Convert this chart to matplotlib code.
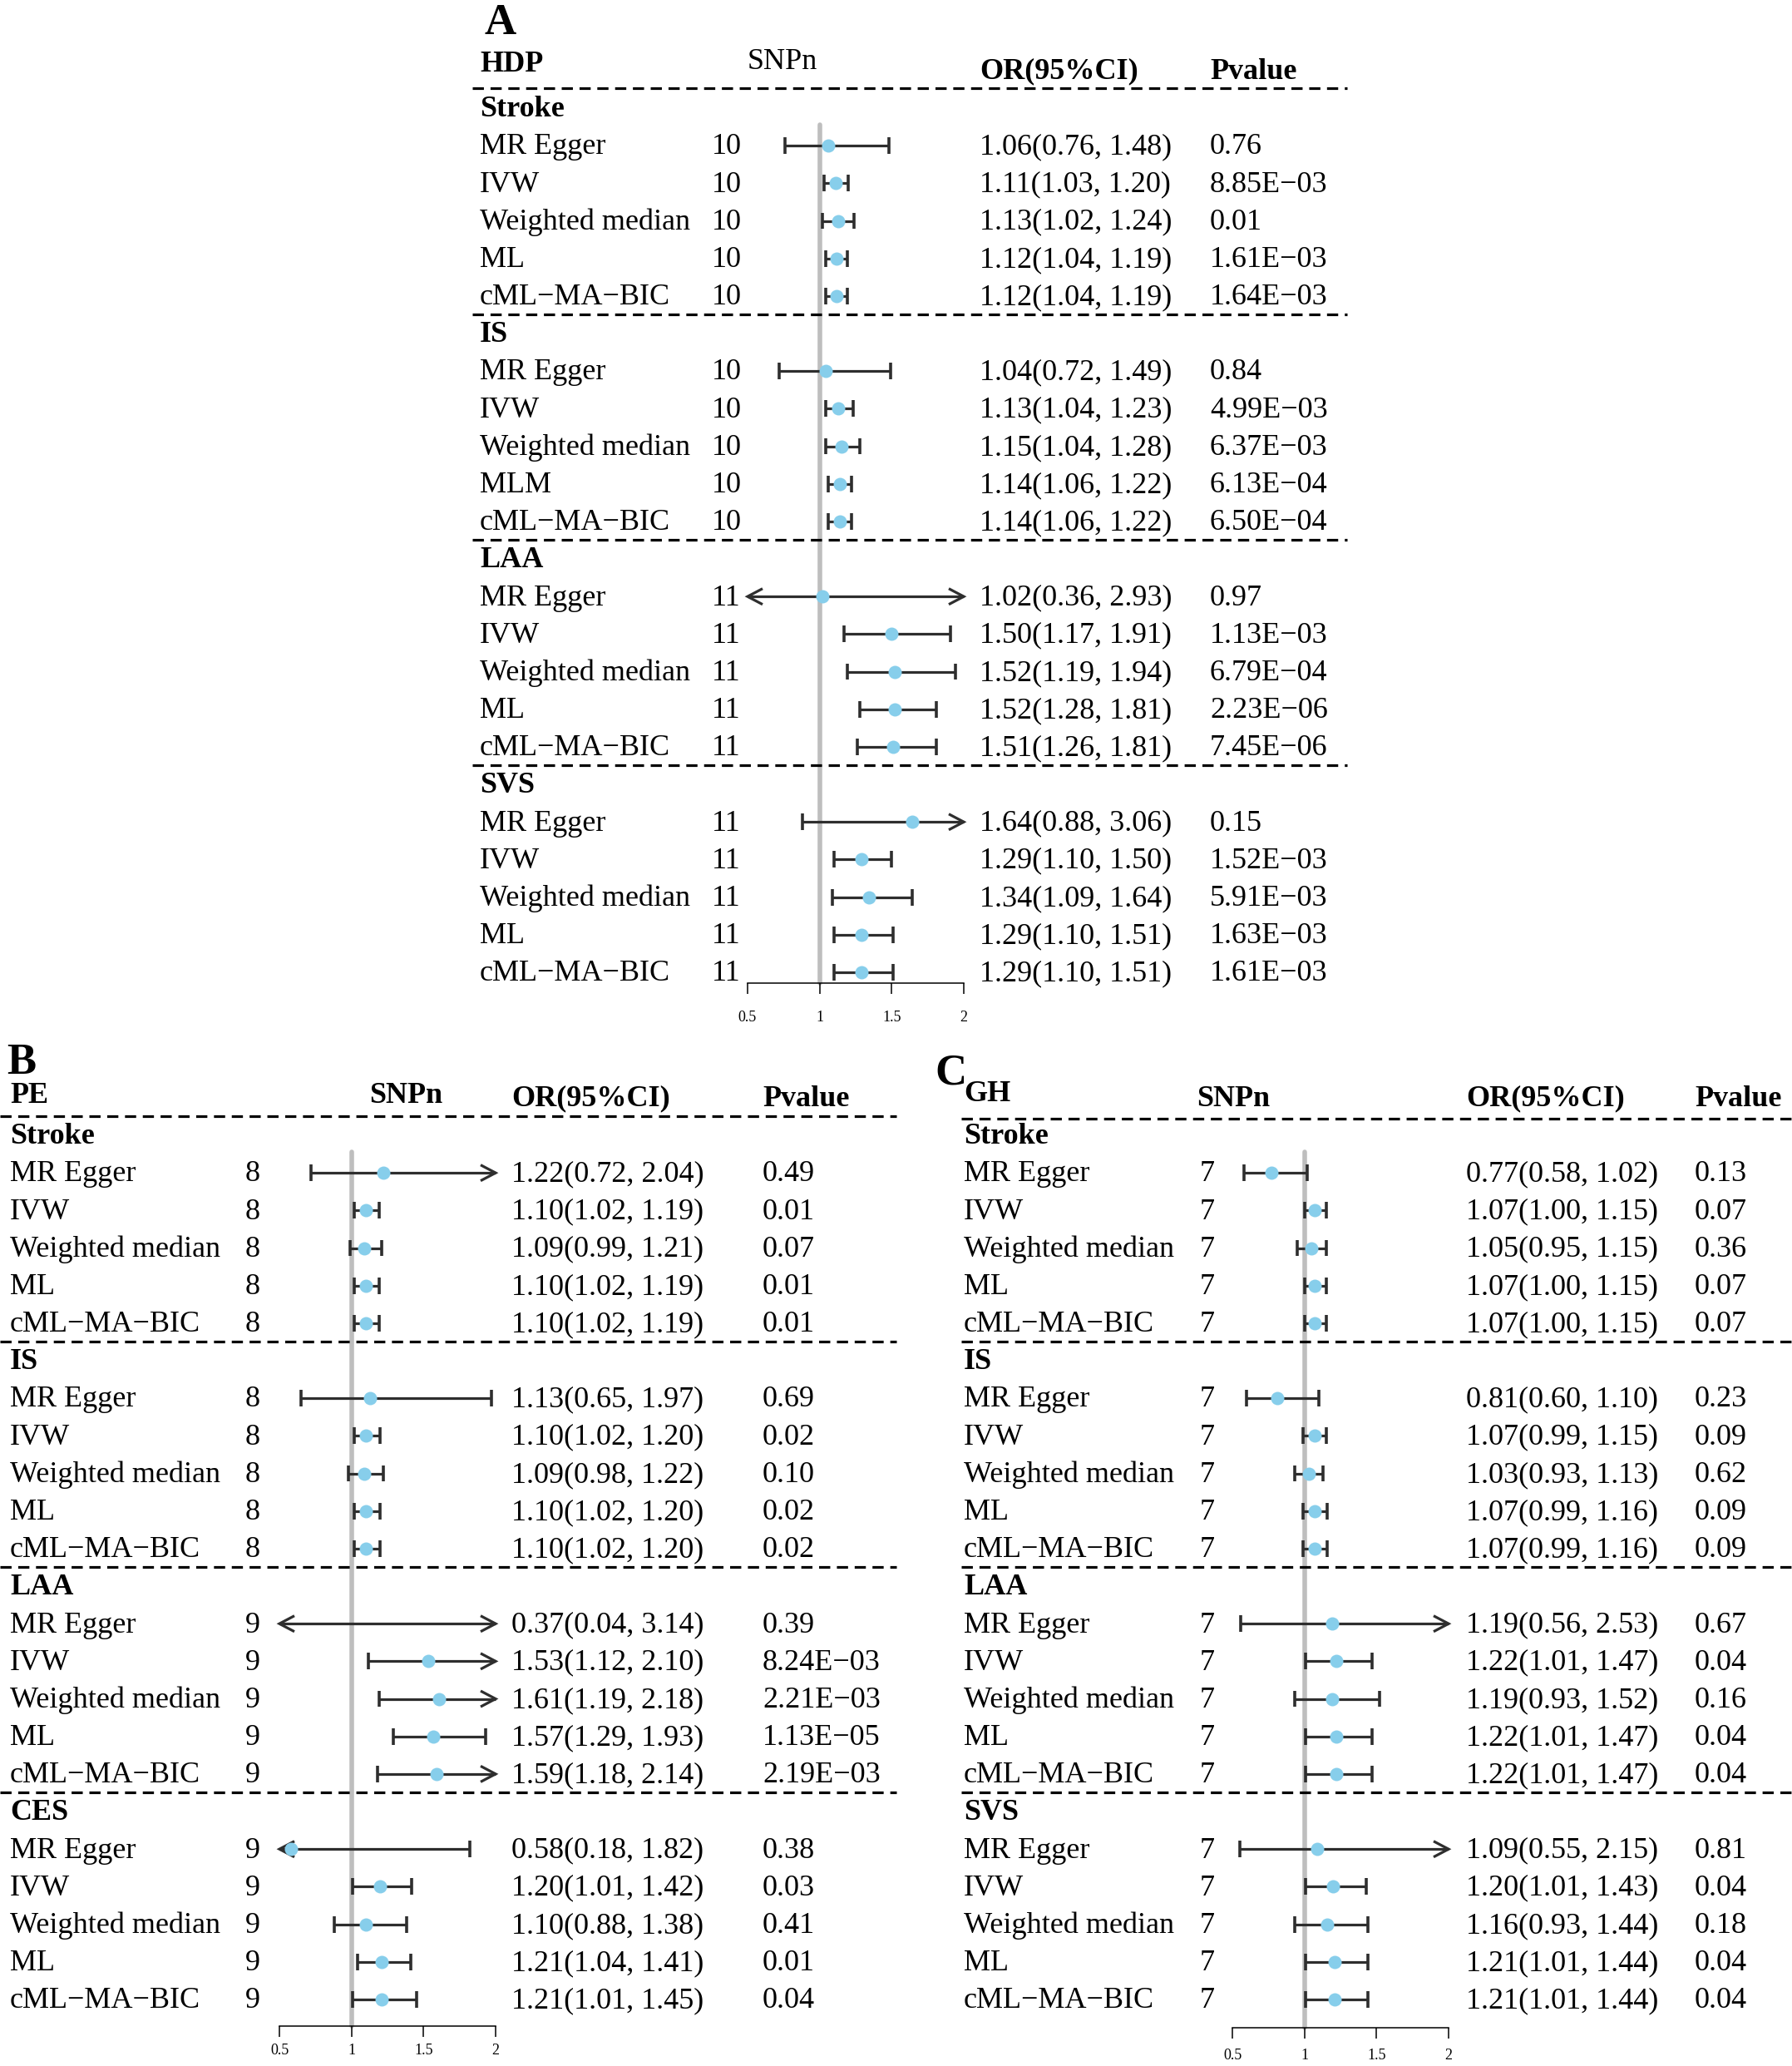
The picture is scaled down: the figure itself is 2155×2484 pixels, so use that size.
import matplotlib
matplotlib.use('Agg')
import matplotlib.pyplot as plt
from matplotlib.transforms import blended_transform_factory

plt.rcParams['font.family'] = ['Liberation Serif', 'DejaVu Serif']

# ---------------- data ----------------
METHODS = ['MR Egger', 'IVW', 'Weighted median', 'ML', 'cML\u2212MA\u2212BIC']
METHODS_A_IS = ['MR Egger', 'IVW', 'Weighted median', 'MLM', 'cML\u2212MA\u2212BIC']

# Panel A : HDP
groups_A = ['Stroke', 'IS', 'LAA', 'SVS']
methods_A = [METHODS, METHODS_A_IS, METHODS, METHODS]
snp_A = [10, 10, 11, 11]
or_A = [[1.06, 1.11, 1.13, 1.12, 1.12],
        [1.04, 1.13, 1.15, 1.14, 1.14],
        [1.02, 1.50, 1.52, 1.52, 1.51],
        [1.64, 1.29, 1.34, 1.29, 1.29]]
lo_A = [[0.76, 1.03, 1.02, 1.04, 1.04],
        [0.72, 1.04, 1.04, 1.06, 1.06],
        [0.36, 1.17, 1.19, 1.28, 1.26],
        [0.88, 1.10, 1.09, 1.10, 1.10]]
hi_A = [[1.48, 1.20, 1.24, 1.19, 1.19],
        [1.49, 1.23, 1.28, 1.22, 1.22],
        [2.93, 1.91, 1.94, 1.81, 1.81],
        [3.06, 1.50, 1.64, 1.51, 1.51]]
p_A = [['0.76', '8.85E\u221203', '0.01', '1.61E\u221203', '1.64E\u221203'],
       ['0.84', '4.99E\u221203', '6.37E\u221203', '6.13E\u221204', '6.50E\u221204'],
       ['0.97', '1.13E\u221203', '6.79E\u221204', '2.23E\u221206', '7.45E\u221206'],
       ['0.15', '1.52E\u221203', '5.91E\u221203', '1.63E\u221203', '1.61E\u221203']]

# Panel B : PE
groups_B = ['Stroke', 'IS', 'LAA', 'CES']
methods_B = [METHODS, METHODS, METHODS, METHODS]
snp_B = [8, 8, 9, 9]
or_B = [[1.22, 1.10, 1.09, 1.10, 1.10],
        [1.13, 1.10, 1.09, 1.10, 1.10],
        [0.37, 1.53, 1.61, 1.57, 1.59],
        [0.58, 1.20, 1.10, 1.21, 1.21]]
lo_B = [[0.72, 1.02, 0.99, 1.02, 1.02],
        [0.65, 1.02, 0.98, 1.02, 1.02],
        [0.04, 1.12, 1.19, 1.29, 1.18],
        [0.18, 1.01, 0.88, 1.04, 1.01]]
hi_B = [[2.04, 1.19, 1.21, 1.19, 1.19],
        [1.97, 1.20, 1.22, 1.20, 1.20],
        [3.14, 2.10, 2.18, 1.93, 2.14],
        [1.82, 1.42, 1.38, 1.41, 1.45]]
p_B = [['0.49', '0.01', '0.07', '0.01', '0.01'],
       ['0.69', '0.02', '0.10', '0.02', '0.02'],
       ['0.39', '8.24E\u221203', '2.21E\u221203', '1.13E\u221205', '2.19E\u221203'],
       ['0.38', '0.03', '0.41', '0.01', '0.04']]

# Panel C : GH
groups_C = ['Stroke', 'IS', 'LAA', 'SVS']
methods_C = [METHODS, METHODS, METHODS, METHODS]
snp_C = [7, 7, 7, 7]
or_C = [[0.77, 1.07, 1.05, 1.07, 1.07],
        [0.81, 1.07, 1.03, 1.07, 1.07],
        [1.19, 1.22, 1.19, 1.22, 1.22],
        [1.09, 1.20, 1.16, 1.21, 1.21]]
lo_C = [[0.58, 1.00, 0.95, 1.00, 1.00],
        [0.60, 0.99, 0.93, 0.99, 0.99],
        [0.56, 1.01, 0.93, 1.01, 1.01],
        [0.55, 1.01, 0.93, 1.01, 1.01]]
hi_C = [[1.02, 1.15, 1.15, 1.15, 1.15],
        [1.10, 1.15, 1.13, 1.16, 1.16],
        [2.53, 1.47, 1.52, 1.47, 1.47],
        [2.15, 1.43, 1.44, 1.44, 1.44]]
p_C = [['0.13', '0.07', '0.36', '0.07', '0.07'],
       ['0.23', '0.09', '0.62', '0.09', '0.09'],
       ['0.67', '0.04', '0.16', '0.04', '0.04'],
       ['0.81', '0.04', '0.18', '0.04', '0.04']]

x_ticks = [0.5, 1, 1.5, 2]
x_tick_labels = ['0.5', '1', '1.5', '2']
x_min, x_max = 0.5, 2.0
ref_line = 1.0

# ---------------- layout ----------------
W, H, DPI = 2155, 2484, 100
UNIT = 45.17
FS = 26
TXT_DY = 0.04
LINE_COL = '#2e2e2e'
PT_COL = '#87CEEB'
GRAY = '#BEBEBE'

fig = plt.figure(figsize=(W / DPI, H / DPI), dpi=DPI)
fig.patch.set_facecolor('white')

panels = [
    dict(letter='A', title='HDP', groups=groups_A, methods=methods_A, snp=snp_A,
         orv=or_A, lo=lo_A, hi=hi_A, p=p_A,
         x05=899, x2=1159, y0=130, axis_u=23.29,
         letter_xy=(582, 28), snp_bold=False,
         hdr_u=dict(title=-1.17, snp=-1.22, orh=-0.97, ph=-0.97), top_dash=-0.53,
         col=dict(meth=577, snpv=856, snph=899, orx=1178, px=1455),
         dash=(568, 1620), pad=14),
    dict(letter='B', title='PE', groups=groups_B, methods=methods_B, snp=snp_B,
         orv=or_B, lo=lo_B, hi=hi_B, p=p_B,
         x05=336, x2=596, y0=1365, axis_u=23.71,
         letter_xy=(8, 1278), snp_bold=True,
         hdr_u=dict(title=-1.06, snp=-1.06, orh=-0.97, ph=-0.97), top_dash=-0.51,
         col=dict(meth=12, snpv=295, snph=444, orx=615, px=917),
         dash=(0, 1078), pad=6),
    dict(letter='C', title='GH', groups=groups_C, methods=methods_C, snp=snp_C,
         orv=or_C, lo=lo_C, hi=hi_C, p=p_C,
         x05=1482, x2=1742, y0=1365, axis_u=23.75,
         letter_xy=(1124, 1290), snp_bold=True,
         hdr_u=dict(title=-1.1, snp=-0.97, orh=-0.97, ph=-0.97), top_dash=-0.45,
         col=dict(meth=1159, snpv=1443, snph=1439, orx=1763, px=2038),
         dash=(1156, 2155), pad=9),
]

for P in panels:
    top_u = -1.6
    top_px = P['y0'] + top_u * UNIT
    bot_px = P['y0'] + P['axis_u'] * UNIT
    ax = fig.add_axes([P['x05'] / W, 1 - bot_px / H,
                       (P['x2'] - P['x05']) / W, (bot_px - top_px) / H])
    ax.set_xlim(x_min, x_max)
    ax.set_ylim(P['axis_u'], top_u)
    ax.patch.set_alpha(0)
    for s in ['top', 'left', 'right']:
        ax.spines[s].set_visible(False)
    ax.spines['bottom'].set_bounds(x_min, x_max)
    ax.spines['bottom'].set_linewidth(1.1)
    ax.set_yticks([])
    ax.set_xticks(x_ticks)
    ax.set_xticklabels(x_tick_labels)
    ax.tick_params(axis='x', direction='out', length=9.4, width=1.1,
                   labelsize=13, pad=P['pad'])

    tr = blended_transform_factory(fig.transFigure, ax.transData)
    c = P['col']
    fx = lambda px: px / W

    # panel letter
    lx, ly = P['letter_xy']
    fig.text(fx(lx), 1 - ly / H, P['letter'], fontsize=38, fontweight='bold',
             va='center', ha='left')

    # headers
    hu = P['hdr_u']
    ax.text(fx(c['meth']), hu['title'], P['title'], transform=tr, fontsize=FS,
            fontweight='bold', va='center', ha='left')
    ax.text(fx(c['snph']), hu['snp'], 'SNPn', transform=tr, fontsize=FS,
            fontweight='bold' if P['snp_bold'] else 'normal', va='center', ha='left')
    ax.text(fx(c['orx']), hu['orh'], 'OR(95%CI)', transform=tr, fontsize=FS,
            fontweight='bold', va='center', ha='left')
    ax.text(fx(c['px']), hu['ph'], 'Pvalue', transform=tr, fontsize=FS,
            fontweight='bold', va='center', ha='left')

    dash_kw = dict(color='black', lw=2.3, dashes=(4.2, 2.5), clip_on=False, transform=tr)
    d0, d1 = fx(P['dash'][0]), fx(P['dash'][1])
    ax.plot([d0, d1], [P['top_dash'], P['top_dash']], **dash_kw)

    # reference line
    ax.plot([ref_line, ref_line], [0.45, P['axis_u']], color=GRAY, lw=4.0,
            solid_capstyle='round', zorder=1, clip_on=False)

    ah_x = 0.104
    ah_y = 0.21
    cap = 0.22
    for g, gname in enumerate(P['groups']):
        base = g * 6
        ax.text(fx(c['meth']), base + TXT_DY, gname, transform=tr, fontsize=FS,
                fontweight='bold', va='center', ha='left')
        if g > 0:
            ax.plot([d0, d1], [base - 0.5, base - 0.5], **dash_kw)
        for k in range(5):
            r = base + 1 + k
            o = P['orv'][g][k]
            lo = P['lo'][g][k]
            hi = P['hi'][g][k]
            ty = r + TXT_DY
            ax.text(fx(c['meth']), ty, P['methods'][g][k], transform=tr, fontsize=FS,
                    va='center', ha='left')
            ax.text(fx(c['snpv']), ty, str(P['snp'][g]), transform=tr, fontsize=FS,
                    va='center', ha='left')
            ax.text(fx(c['orx']), ty, f'{o:.2f}({lo:.2f}, {hi:.2f})', transform=tr,
                    fontsize=FS, va='center', ha='left')
            ax.text(fx(c['px']), ty, P['p'][g][k], transform=tr, fontsize=FS,
                    va='center', ha='left')
            lkw = dict(color=LINE_COL, lw=2.3, clip_on=False, zorder=3,
                       solid_capstyle='butt', solid_joinstyle='miter')
            ckw = dict(lkw, lw=2.6)
            l = max(lo, x_min)
            h = min(hi, x_max)
            ax.plot([l, h], [r, r], **lkw)
            if lo < x_min:
                ax.plot([x_min + ah_x, x_min, x_min + ah_x], [r - ah_y, r, r + ah_y], **lkw)
            else:
                ax.plot([lo, lo], [r - cap, r + cap], **ckw)
            if hi > x_max:
                ax.plot([x_max - ah_x, x_max, x_max - ah_x], [r - ah_y, r, r + ah_y], **lkw)
            else:
                ax.plot([hi, hi], [r - cap, r + cap], **ckw)
            if x_min <= o <= x_max:
                ax.plot([o], [r], 'o', color=PT_COL, ms=11.5, mec='none', zorder=5,
                        clip_on=False)

fig.savefig('out.png', dpi=DPI, facecolor='white')
